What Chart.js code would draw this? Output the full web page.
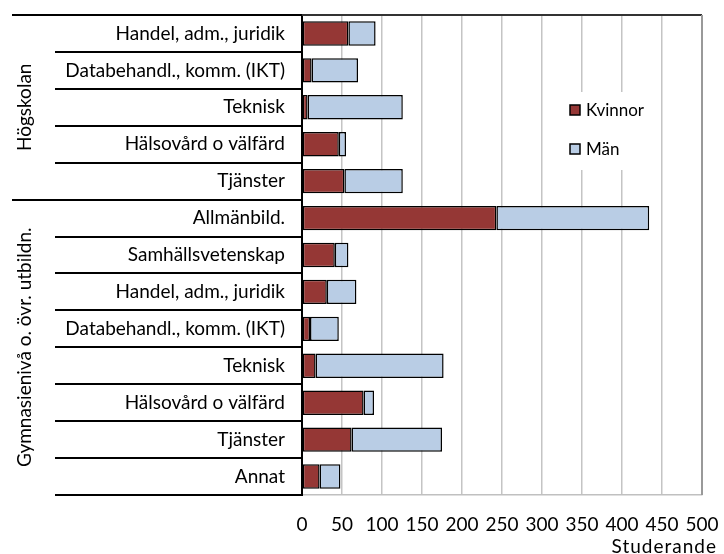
<!DOCTYPE html>
<html>
<head>
<meta charset="utf-8">
<script src="https://cdn.jsdelivr.net/npm/chart.js@4"></script>
<style>
  body { margin: 0; background: #fff; }
  #wrap { width: 724px; height: 554px; }
</style>
</head>
<body>
<div id="wrap"><canvas id="myChart"></canvas></div>
<script>
const categories = [
  'Handel, adm., juridik', 'Databehandl., komm. (IKT)', 'Teknisk', 'Hälsovård o välfärd', 'Tjänster',
  'Allmänbild.', 'Samhällsvetenskap', 'Handel, adm., juridik', 'Databehandl., komm. (IKT)',
  'Teknisk', 'Hälsovård o välfärd', 'Tjänster', 'Annat'
];
const groups = ['Högskolan', 'Gymnasienivå o. övr. utbildn.'];
const groupSizes = [5, 8];
const kvinnor = [58, 12, 7, 46, 53, 243, 41, 31, 10, 17, 77, 62, 22];
const man = [34, 58, 119, 9, 73, 191, 17, 37, 36, 160, 13, 113, 26];
const xTicks = [0, 50, 100, 150, 200, 250, 300, 350, 400, 450, 500];
const xTitle = 'Studerande';

const FONT = 'Lato, "Liberation Sans", sans-serif';

// draws the label table lines, group names, axis title and the legend box
const tablePlugin = {
  id: 'tableLines',
  afterDraw(chart) {
    const ctx = chart.ctx;
    const area = chart.chartArea;
    const y = chart.scales.y;
    const half = (y.getPixelForValue(1) - y.getPixelForValue(0)) / 2;
    const groupStarts = [0];
    groupSizes.forEach((s, i) => groupStarts.push(groupStarts[i] + s));

    ctx.save();
    ctx.strokeStyle = '#000';
    ctx.lineWidth = 2;
    for (let k = 0; k <= categories.length; k++) {
      const py = Math.round(y.getPixelForValue(k) - half);
      const isGroup = groupStarts.includes(k) && k < categories.length;
      ctx.beginPath();
      ctx.moveTo(isGroup ? 12 : 55, py);
      ctx.lineTo(area.left, py);
      ctx.stroke();
    }
    // top border of plot
    ctx.strokeStyle = '#333';
    ctx.beginPath();
    ctx.moveTo(area.left, area.top);
    ctx.lineTo(area.right, area.top);
    ctx.stroke();
    // right border
    ctx.strokeStyle = '#999';
    ctx.beginPath();
    ctx.moveTo(area.right, area.top);
    ctx.lineTo(area.right, area.bottom);
    ctx.stroke();

    // group names
    ctx.fillStyle = '#000';
    ctx.font = '19px ' + FONT;
    ctx.textAlign = 'center';
    ctx.textBaseline = 'middle';
    groups.forEach((g, i) => {
      const top = y.getPixelForValue(groupStarts[i]) - half;
      const bot = y.getPixelForValue(groupStarts[i + 1]) - half;
      ctx.save();
      ctx.translate(25, (top + bot) / 2);
      ctx.rotate(-Math.PI / 2);
      ctx.fillText(g, 0, 0);
      ctx.restore();
    });

    // x axis title, right aligned a bit past the plot edge
    ctx.save();
    ctx.textAlign = 'right';
    ctx.letterSpacing = '1px';
    ctx.fillText(xTitle, area.right + 15, area.bottom + 52);
    ctx.restore();

    // legend inside plot
    const lx = area.left + 0.67 * (area.right - area.left);
    const ly = area.top + 95;
    ctx.fillStyle = '#fff';
    ctx.fillRect(lx - 5, ly - 18, 86, 78);
    ctx.textAlign = 'left';
    ctx.font = '17px ' + FONT;
    chart.data.datasets.forEach((ds, i) => {
      const cy = ly + i * 39;
      ctx.fillStyle = ds.backgroundColor;
      ctx.fillRect(lx, cy - 5, 10, 10);
      ctx.strokeStyle = '#000';
      ctx.lineWidth = 1.5;
      ctx.strokeRect(lx, cy - 5, 10, 10);
      ctx.fillStyle = '#000';
      ctx.fillText(ds.label, lx + 16, cy + 1);
    });
    ctx.restore();
  }
};

const ctx = document.getElementById('myChart').getContext('2d');
new Chart(ctx, {
  type: 'bar',
  data: {
    labels: categories,
    datasets: [
      { label: 'Kvinnor', data: kvinnor, backgroundColor: '#953735' },
      { label: 'Män', data: man, backgroundColor: '#B9CDE5' }
    ]
  },
  options: {
    indexAxis: 'y',
    responsive: true,
    maintainAspectRatio: false,
    animation: false,
    layout: { padding: { top: 15, right: 22, left: 0, bottom: 0 } },
    datasets: {
      bar: {
        borderColor: '#000',
        borderWidth: 1.5,
        borderSkipped: false,
        categoryPercentage: 1,
        barPercentage: 0.66
      }
    },
    plugins: {
      legend: { display: false },
      tooltip: { enabled: false }
    },
    scales: {
      x: {
        stacked: true,
        min: 0,
        max: 500,
        afterBuildTicks(scale) { scale.ticks = xTicks.map(v => ({ value: v })); },
        afterFit(scale) {
          scale.height = 59;
          scale.paddingLeft = 0;
          scale.paddingRight = 0;
        },
        grid: { color: '#c4c4c4', lineWidth: 1.5, drawTicks: false },
        border: { color: '#c0c0c0', width: 1.5 },
        ticks: { color: '#000', font: { family: FONT, size: 19 }, padding: 18 }
      },
      y: {
        stacked: true,
        afterFit(scale) {
          scale.width = 302;
          scale.paddingTop = 0;
          scale.paddingBottom = 0;
        },
        grid: { display: false },
        border: { color: '#000', width: 2 },
        ticks: { color: '#000', font: { family: FONT, size: 19 }, padding: 9, autoSkip: false }
      }
    }
  },
  plugins: [tablePlugin]
});
</script>
</body>
</html>
